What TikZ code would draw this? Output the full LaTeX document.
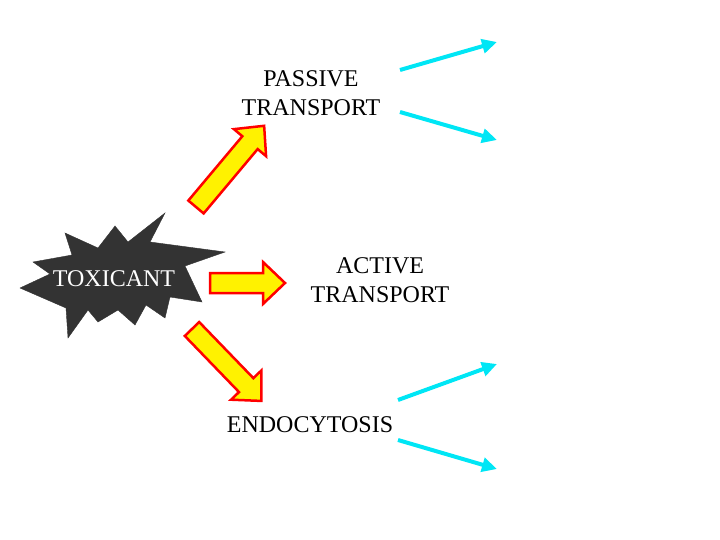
\documentclass[tikz,border=0pt]{standalone}
\usepackage{fontspec}
\setmainfont{Liberation Serif}
\usetikzlibrary{positioning, arrows.meta}

\definecolor{flowcyan}{RGB}{0,230,245}
\definecolor{burstgray}{RGB}{51,51,51}
\tikzset{
    label text/.style={align=center, font=\fontsize{24}{29}\selectfont},
    flow/.style={draw=flowcyan, line width=4pt, -{Triangle[length=15pt,width=14pt]}},
    fat arrow/.pic={
        \draw [fill=yellow, draw=red, line width=2.5pt, line join=miter]
            (0,-10) -- (#1-22,-10) -- (#1-22,-21) -- (#1,0) -- (#1-22,21) -- (#1-22,10) -- (0,10) -- cycle ;
    }
}

\begin{document}
\begin{tikzpicture}[x=1pt,y=-1pt]
    \useasboundingbox (0,0) rectangle (720,540);
    % the burst
    \draw [fill=burstgray, draw=burstgray] (165,213) -- (150,242) -- (225,252) -- (185,266) -- (202,302)
        -- (170,297) -- (165,318) -- (146,305) -- (135,325) -- (118,310) -- (98,322) -- (88,310)
        -- (68,338) -- (66,308) -- (20,288) -- (50,274) -- (33,262) -- (72,255) -- (65,233)
        -- (98,248) -- (115,226) -- (128,242) -- cycle ;
    \node (toxicant) [label text, text=white] at (114,279) {TOXICANT};
    % block arrows
    \pic at (210,283) {fat arrow=75};
    \pic [rotate=50] at (196,207) {fat arrow=106};
    \pic [rotate=-46] at (192,329) {fat arrow=100};
    % labels
    \node (passive) [label text] at (311,93) {PASSIVE\\TRANSPORT};
    \node (active) [label text] at (380,280) {ACTIVE\\TRANSPORT};
    \node (endo) [label text] at (310,425) {ENDOCYTOSIS};
    % outgoing
    \coordinate (p1) at (497,42);
    \coordinate (p2) at (497,140);
    \coordinate (e1) at (497,364);
    \coordinate (e2) at (497,469);
    \draw [flow] (400,70) -- (p1);
    \draw [flow] (400,112) -- (p2);
    \draw [flow] (398,400) -- (e1);
    \draw [flow] (398,440) -- (e2);
\end{tikzpicture}
\end{document}
